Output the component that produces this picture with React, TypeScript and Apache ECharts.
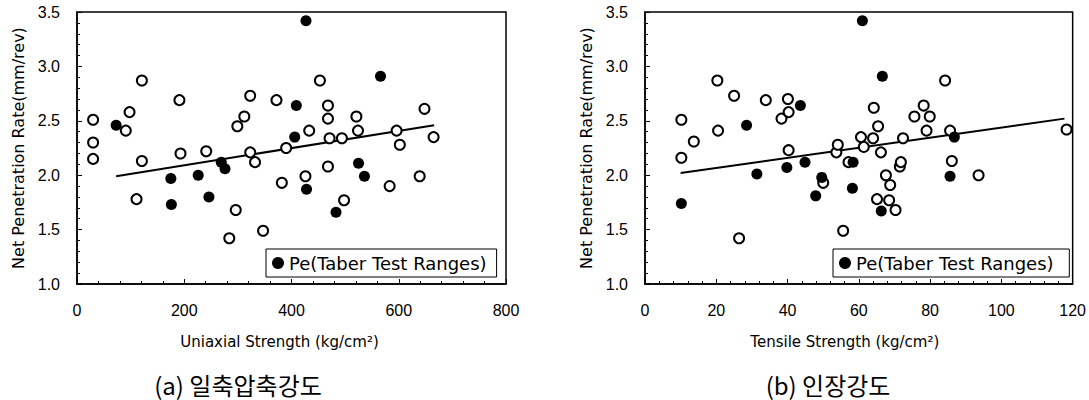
import React, { useEffect, useRef } from "react";
import * as echarts from "echarts";

// Panel (a): Uniaxial strength vs net penetration rate
const uniOpenX = [30, 30, 30, 91, 98, 121, 121, 111, 191, 193, 241, 284, 296, 299, 312, 323, 323, 332, 347, 372, 382, 390, 426, 433, 453, 468, 468, 471, 468, 494, 498, 521, 524, 583, 596, 602, 639, 648, 665];
const uniOpenY = [2.51, 2.30, 2.15, 2.41, 2.58, 2.87, 2.13, 1.78, 2.69, 2.20, 2.22, 1.42, 1.68, 2.45, 2.54, 2.73, 2.21, 2.12, 1.49, 2.69, 1.93, 2.25, 1.99, 2.41, 2.87, 2.64, 2.52, 2.34, 2.08, 2.34, 1.77, 2.54, 2.41, 1.90, 2.41, 2.28, 1.99, 2.61, 2.35];
const uniFillX = [73, 175, 176, 226, 246, 269, 276, 406, 409, 427, 428, 483, 525, 536, 566];
const uniFillY = [2.46, 1.97, 1.73, 2.00, 1.80, 2.12, 2.06, 2.35, 2.64, 3.42, 1.87, 1.66, 2.11, 1.99, 2.91];
const uniTrendX = [73, 666];
const uniTrendY = [1.99, 2.46];

// Panel (b): Tensile strength vs net penetration rate
const tenOpenX = [10.2, 10.2, 13.7, 20.3, 20.5, 25, 26.4, 33.9, 38.3, 40.1, 40.3, 40.3, 50, 53.7, 54.1, 55.6, 57.1, 60.6, 61.4, 64, 64.2, 65.1, 65.4, 66.2, 67.6, 68.5, 68.8, 70.3, 71.5, 71.8, 72.4, 75.6, 78.2, 79, 79.9, 84.2, 85.6, 86.1, 93.6, 118.3];
const tenOpenY = [2.51, 2.16, 2.31, 2.87, 2.41, 2.73, 1.42, 2.69, 2.52, 2.70, 2.58, 2.23, 1.93, 2.21, 2.28, 1.49, 2.12, 2.35, 2.26, 2.34, 2.62, 1.78, 2.45, 2.21, 2.00, 1.77, 1.91, 1.68, 2.08, 2.12, 2.34, 2.54, 2.64, 2.41, 2.54, 2.87, 2.41, 2.13, 2.00, 2.42];
const tenFillX = [10.2, 28.5, 31.4, 39.8, 43.6, 44.9, 47.9, 49.6, 58.2, 58.4, 61, 66.3, 66.6, 85.6, 86.8];
const tenFillY = [1.74, 2.46, 2.01, 2.07, 2.64, 2.12, 1.81, 1.98, 1.88, 2.12, 3.42, 1.67, 2.91, 1.99, 2.35];
const tenTrendX = [10, 117.7];
const tenTrendY = [2.02, 2.52];

const yTicksMin = 1.0;
const yTicksMax = 3.5;
const legendName = "Pe(Taber Test Ranges)";

const zip = (xs: number[], ys: number[]) => xs.map((x, i) => [x, ys[i]]);

const FONT = "Liberation Sans, Arial, sans-serif";
const WIDE = "DejaVu Sans, sans-serif";

function xAxisCfg(gridIndex: number, max: number, interval: number, name: string, shift: number) {
  return {
    gridIndex,
    type: "value",
    min: 0,
    max,
    interval,
    name,
    nameLocation: "middle",
    nameGap: 50,
    nameTextStyle: { fontFamily: WIDE, fontSize: 15, color: "#000", padding: [0, shift * 2, 0, 0] },
    axisLine: { show: true, lineStyle: { color: "#000", width: 1.5 } },
    axisTick: { show: true, inside: true, length: 5, lineStyle: { color: "#000" } },
    minorTick: { show: true, splitNumber: 5, length: 3, lineStyle: { color: "#000" } },
    axisLabel: { fontFamily: FONT, fontSize: 16, color: "#000", margin: 18 },
    splitLine: { show: false },
  };
}

function yAxisCfg(gridIndex: number) {
  return {
    gridIndex,
    type: "value",
    min: yTicksMin,
    max: yTicksMax,
    interval: 0.5,
    name: "Net Penetration Rate(mm/rev)",
    nameLocation: "middle",
    nameGap: 51,
    nameTextStyle: { fontFamily: WIDE, fontSize: 16, color: "#000" },
    axisLine: { show: true, lineStyle: { color: "#000", width: 1.5 } },
    axisTick: { show: true, inside: true, length: 5, lineStyle: { color: "#000" } },
    minorTick: { show: true, splitNumber: 5, length: 3, lineStyle: { color: "#000" } },
    axisLabel: {
      fontFamily: FONT,
      fontSize: 16,
      color: "#000",
      margin: 17,
      formatter: (v: number) => v.toFixed(1),
    },
    splitLine: { show: false },
  };
}

function seriesFor(idx: number, openX: number[], openY: number[], fillX: number[], fillY: number[], tx: number[], ty: number[]) {
  return [
    {
      type: "line",
      xAxisIndex: idx,
      yAxisIndex: idx,
      data: zip(tx, ty),
      symbol: "none",
      lineStyle: { color: "#000", width: 2 },
      z: 2,
      silent: true,
    },
    {
      name: idx === 0 ? "open-a" : "open-b",
      type: "scatter",
      xAxisIndex: idx,
      yAxisIndex: idx,
      data: zip(openX, openY),
      symbol: "circle",
      symbolSize: 10,
      itemStyle: { color: "#fff", borderColor: "#000", borderWidth: 2, opacity: 1 },
      z: 3,
    },
    {
      name: idx === 0 ? legendName : legendName + " ",
      type: "scatter",
      xAxisIndex: idx,
      yAxisIndex: idx,
      data: zip(fillX, fillY),
      symbol: "circle",
      symbolSize: 11,
      itemStyle: { color: "#000", opacity: 1 },
      z: 4,
    },
  ];
}

function legendCfg(left: number, name: string) {
  return {
    data: [{ name, icon: "circle" }],
    left,
    top: 249,
    orient: "horizontal",
    itemWidth: 12,
    itemHeight: 12,
    itemGap: 4,
    padding: [5, 10, 5, 6],
    backgroundColor: "#fff",
    borderColor: "#000",
    borderWidth: 1,
    borderRadius: 0,
    textStyle: { fontFamily: WIDE, fontSize: 18, color: "#000" },
    selectedMode: false,
    z: 10,
  };
}

export default function App() {
  const ref = useRef<HTMLDivElement>(null);
  useEffect(() => {
    document.body.style.margin = "0";
    if (!ref.current) return;
    const chart = echarts.init(ref.current, null, { renderer: "svg" });
    chart.setOption({
      animation: false,
      backgroundColor: "#fff",
      grid: [
        { left: 77, top: 12, width: 429, height: 272, show: true, borderColor: "#000", borderWidth: 1.5, backgroundColor: "transparent" },
        { left: 645, top: 12, width: 428, height: 272, show: true, borderColor: "#000", borderWidth: 1.5, backgroundColor: "transparent" },
      ],
      xAxis: [
        xAxisCfg(0, 800, 200, "Uniaxial Strength (kg/cm²)", 12),
        xAxisCfg(1, 120, 20, "Tensile Strength (kg/cm²)", 14),
      ],
      yAxis: [yAxisCfg(0), yAxisCfg(1)],
      legend: [legendCfg(266, legendName), legendCfg(833, legendName + " ")],
      series: [
        ...seriesFor(0, uniOpenX, uniOpenY, uniFillX, uniFillY, uniTrendX, uniTrendY),
        ...seriesFor(1, tenOpenX, tenOpenY, tenFillX, tenFillY, tenTrendX, tenTrendY),
      ],
      graphic: [
        {
          type: "text",
          x: 238,
          y: 384,
          style: {
            text: "(a) 일축압축강도",
            fontFamily: "Noto Sans CJK KR, sans-serif",
            fontSize: 24,
            fill: "#000",
            align: "center",
            verticalAlign: "middle",
          },
        },
        {
          type: "text",
          x: 828,
          y: 384,
          style: {
            text: "(b) 인장강도",
            fontFamily: "Noto Sans CJK KR, sans-serif",
            fontSize: 24,
            fill: "#000",
            align: "center",
            verticalAlign: "middle",
          },
        },
      ],
    });
    return () => chart.dispose();
  }, []);
  return <div ref={ref} style={{ width: 1089, height: 400 }} />;
}
